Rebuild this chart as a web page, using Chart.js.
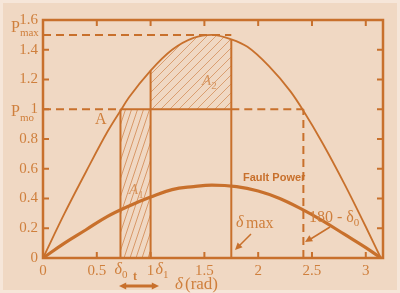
<!DOCTYPE html>
<html>
<head>
<meta charset="utf-8">
<script src="https://cdn.jsdelivr.net/npm/chart.js@4.4.1/dist/chart.umd.min.js"></script>
<style>
html, body { margin: 0; padding: 0; background: #f6e6d9; }
canvas { display: block; }
</style>
</head>
<body>
<canvas id="myChart" width="400" height="293"></canvas>
<script>
// power-angle curve before fault
const curveDelta = [0, 0.2, 0.4, 0.6, 0.72, 0.8, 1.0, 1.2, 1.4, 1.57, 1.75, 1.9, 2.1, 2.3, 2.42, 2.6, 2.8, 3.0, 3.14];
const curvePower = [0, 0.30, 0.58, 0.85, 0.99, 1.08, 1.26, 1.40, 1.48, 1.50, 1.47, 1.42, 1.29, 1.12, 0.99, 0.77, 0.50, 0.21, 0];
// fault power curve
const faultDelta = [0, 0.2, 0.4, 0.6, 0.8, 1.0, 1.2, 1.4, 1.57, 1.8, 2.0, 2.2, 2.4, 2.6, 2.8, 3.0, 3.14];
const faultPower = [0, 0.10, 0.19, 0.28, 0.35, 0.41, 0.46, 0.48, 0.49, 0.48, 0.45, 0.40, 0.33, 0.25, 0.16, 0.07, 0];
// decelerating area A2 (top edge)
const a2Delta = [1.0, 1.2, 1.4, 1.57, 1.75];
const a2Power = [1.26, 1.40, 1.48, 1.50, 1.47];
const xTicks = [0, 0.5, 1, 1.5, 2, 2.5, 3];
const yTicks = [0, 0.2, 0.4, 0.6, 0.8, 1, 1.2, 1.4, 1.6];
const delta0 = 0.72, delta1 = 1.0, deltaMax = 1.75, deltaC = 2.42;
const pMo = 1, pMax = 1.5, pDelta1 = 1.26, pDeltaMax = 1.47;

const col = '#c8702c';
const txt = '#cf7f3c';
const serif = '"Liberation Serif", "DejaVu Serif", serif';

function hatch(w, h, color) {
    const c = document.createElement('canvas');
    c.width = w; c.height = h;
    const g = c.getContext('2d');
    g.strokeStyle = color;
    g.lineWidth = 1;
    for (const x0 of [-w, 0, w]) {
        g.beginPath();
        g.moveTo(x0, h);
        g.lineTo(x0 + w, 0);
        g.stroke();
    }
    return g.createPattern(c, 'repeat');
}

const pts = (xs, ys) => xs.map((x, i) => ({x: x, y: ys[i]}));
const seg = (x1, y1, x2, y2, dashed) => ({
    data: [{x: x1, y: y1}, {x: x2, y: y2}],
    borderColor: col, borderWidth: 2, borderDash: dashed ? [8, 5] : [],
    pointRadius: 0, showLine: true, fill: false
});

const datasets = [
    {   // A1
        data: [{x: delta0, y: pMo}, {x: delta1, y: pMo}],
        showLine: true, borderWidth: 0, pointRadius: 0,
        fill: 'origin', backgroundColor: hatch(6, 18, 'rgba(200,112,44,0.6)')
    },
    {   // A2
        data: pts(a2Delta, a2Power),
        showLine: true, borderWidth: 0, pointRadius: 0, tension: 0.4,
        fill: {value: pMo}, backgroundColor: hatch(9, 9, 'rgba(200,112,44,0.55)')
    },
    {
        data: pts(curveDelta, curvePower),
        showLine: true, borderColor: col, borderWidth: 1.8, pointRadius: 0,
        cubicInterpolationMode: 'monotone', fill: false
    },
    {
        data: pts(faultDelta, faultPower),
        showLine: true, borderColor: col, borderWidth: 3.2, pointRadius: 0,
        tension: 0.4, fill: false
    },
    seg(delta0, 0, delta0, pMo),
    seg(delta1, 0, delta1, pDelta1),
    seg(deltaMax, 0, deltaMax, pDeltaMax),
    seg(delta0, pMo, deltaMax, pMo),
    seg(0, pMax, deltaMax, pMax, true),
    seg(0, pMo, delta0, pMo, true),
    seg(deltaMax, pMo, deltaC, pMo, true),
    seg(deltaC, 0, deltaC, pMo, true)
];

function arrowHead(ctx, x1, y1, x2, y2, size) {
    const a = Math.atan2(y2 - y1, x2 - x1);
    ctx.beginPath();
    ctx.moveTo(x2, y2);
    ctx.lineTo(x2 - size * Math.cos(a - 0.45), y2 - size * Math.sin(a - 0.45));
    ctx.lineTo(x2 - size * Math.cos(a + 0.45), y2 - size * Math.sin(a + 0.45));
    ctx.closePath();
    ctx.fill();
}

function sym(ctx, main, sub, x, y, size, italic) {
    ctx.font = (italic ? 'italic ' : '') + size + 'px ' + serif;
    ctx.textAlign = 'left';
    ctx.fillText(main, x, y);
    const w = ctx.measureText(main).width;
    ctx.font = Math.round(size * 0.7) + 'px ' + serif;
    ctx.fillText(sub, x + w, y + size * 0.35);
}

const background = {
    id: 'background',
    beforeDraw(chart) {
        const ctx = chart.ctx;
        ctx.save();
        ctx.fillStyle = '#f0d8c3';
        ctx.fillRect(3, 3, 394, 287);
        ctx.restore();
    }
};

const decor = {
    id: 'decor',
    afterDraw(chart) {
        const {ctx, chartArea: {left, right, top, bottom}} = chart;
        const x = chart.scales.x, y = chart.scales.y;
        ctx.save();
        ctx.strokeStyle = col;
        ctx.fillStyle = col;
        ctx.lineWidth = 2.5;
        ctx.strokeRect(left, top, right - left, bottom - top);
        // inward ticks on all sides
        ctx.lineWidth = 2;
        ctx.beginPath();
        xTicks.slice(1).forEach(v => {
            const px = x.getPixelForValue(v);
            ctx.moveTo(px, bottom); ctx.lineTo(px, bottom - 6);
            ctx.moveTo(px, top); ctx.lineTo(px, top + 6);
        });
        yTicks.slice(1, -1).forEach(v => {
            const py = y.getPixelForValue(v);
            ctx.moveTo(left, py); ctx.lineTo(left + 6, py);
            ctx.moveTo(right, py); ctx.lineTo(right - 6, py);
        });
        ctx.stroke();

        ctx.fillStyle = txt;
        ctx.textBaseline = 'middle';
        // axis symbols
        sym(ctx, 'P', 'max', 11, y.getPixelForValue(pMax) - 7, 16, false);
        sym(ctx, 'P', 'mo', 11, y.getPixelForValue(pMo) + 3, 16, false);
        sym(ctx, 'δ', '0', x.getPixelForValue(delta0) - 6, 270, 16, true);
        sym(ctx, 'δ', '1', x.getPixelForValue(delta1) + 5, 270, 16, true);
        ctx.font = 'italic 17px ' + serif;
        ctx.fillText('δ', 175, 285);
        ctx.font = '17px ' + serif;
        ctx.fillText('(rad)', 185, 285);
        ctx.font = 'bold 12px ' + serif;
        ctx.textAlign = 'center';
        ctx.fillText('t', 135, 277);

        // double arrow for t
        ctx.fillStyle = col;
        ctx.lineWidth = 3;
        ctx.beginPath();
        ctx.moveTo(125, 286); ctx.lineTo(153, 286);
        ctx.stroke();
        arrowHead(ctx, 140, 286, 119, 286, 8);
        arrowHead(ctx, 140, 286, 159, 286, 8);

        // area labels
        ctx.fillStyle = txt;
        ctx.textAlign = 'left';
        ctx.font = '16px ' + serif;
        ctx.fillText('A', 95, 120);
        ctx.fillStyle = 'rgba(205,125,60,0.75)';
        sym(ctx, 'A', '1', 129, 190, 15, true);
        sym(ctx, 'A', '2', 202, 81, 15, true);
        ctx.fillStyle = col;

        ctx.font = 'bold 11px "Liberation Sans", Arial, sans-serif';
        ctx.fillText('Fault Power', 243, 178);

        ctx.fillStyle = txt;
        ctx.font = 'italic 16px ' + serif;
        ctx.fillText('δ', 236, 223);
        ctx.font = '16px ' + serif;
        ctx.fillText('max', 246, 224);
        sym(ctx, '180 - δ', '0', 309, 218, 16, false);

        // pointer arrows
        ctx.fillStyle = col;
        ctx.lineWidth = 1.5;
        ctx.beginPath();
        ctx.moveTo(251, 234); ctx.lineTo(238, 247);
        ctx.moveTo(330, 227); ctx.lineTo(309, 240);
        ctx.stroke();
        arrowHead(ctx, 251, 234, 235, 250, 8);
        arrowHead(ctx, 330, 227, 305, 242, 8);
        ctx.restore();
    }
};

const config = {
    type: 'scatter',
    data: {datasets},
    plugins: [background, decor],
    options: {
        responsive: false,
        animation: false,
        layout: {padding: {top: 20, right: 17, left: 0, bottom: 0}},
        plugins: {legend: {display: false}, tooltip: {enabled: false}},
        scales: {
            x: {
                type: 'linear', min: 0, max: 3.16,
                afterFit: s => { s.height = 35; },
                afterBuildTicks: s => { s.ticks = xTicks.map(v => ({value: v})); },
                grid: {display: false, drawTicks: false, tickLength: 0},
                border: {display: false},
                ticks: {color: txt, padding: 4, font: {family: serif, size: 15}, maxRotation: 0,
                    callback: v => String(v)}
            },
            y: {
                type: 'linear', min: 0, max: 1.6,
                afterFit: s => { s.width = 43; },
                afterBuildTicks: s => { s.ticks = yTicks.map(v => ({value: v})); },
                grid: {display: false, drawTicks: false, tickLength: 0},
                border: {display: false},
                ticks: {color: txt, padding: 5, font: {family: serif, size: 15},
                    callback: v => String(v)}
            }
        }
    }
};

const myChart = new Chart(document.getElementById('myChart'), config);
</script>
</body>
</html>
